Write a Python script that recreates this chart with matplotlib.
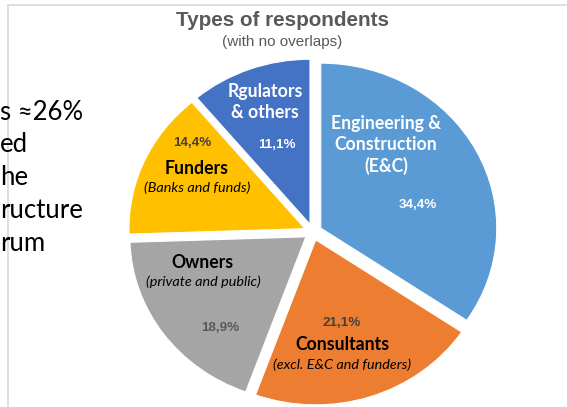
import matplotlib
matplotlib.use("Agg")
import matplotlib.pyplot as plt
from matplotlib.lines import Line2D

# data
categories = ["Engineering &\nConstruction\n(E&C)", "Consultants", "Owners", "Funders", "Rgulators\n& others"]
shares = [34.4, 21.1, 18.9, 14.4, 11.1]
pct_labels = ["34,4%", "21,1%", "18,9%", "14,4%", "11,1%"]
subtitles = ["", "(excl. E&C and funders)", "(private and public)", "(Banks and funds)", ""]
colors = ["#5B9BD5", "#ED7D31", "#A5A5A5", "#FFC000", "#4472C4"]
left_text = ["s \u224826%", "ed", "he", "ructure", "rum"]

W, H = 567, 407
fig = plt.figure(figsize=(W / 100, H / 100), dpi=100)
ax = fig.add_axes([0, 0, 1, 1])

# pie centre and radii in pixels (picture is slightly stretched sideways)
cx, cy, rx, ry = 313, 232, 176, 165

wedges, _ = ax.pie(shares, colors=colors, startangle=90, counterclock=False,
                   explode=[0.05] * len(shares),
                   wedgeprops=dict(edgecolor="white", linewidth=0.8))
ax.set_aspect("auto")
ax.set_xlim(-cx / rx, (W - cx) / rx)
ax.set_ylim(-(H - cy) / ry, cy / ry)
ax.axis("off")


def px(x, y):
    return (x - cx) / rx, (cy - y) / ry


lab_font = ["Lato", "DejaVu Sans"]
num_font = ["Liberation Sans", "DejaVu Sans"]
LAB = 12.7
SUB = 10.4
NUM = 9.6

# E&C
ax.text(*px(386, 145), categories[0], color="white", fontweight="bold", fontsize=LAB,
        family=lab_font, ha="center", va="center", linespacing=1.25)
ax.text(*px(418, 205), pct_labels[0], color="white", fontweight="bold", fontsize=NUM,
        family=num_font, ha="center", va="center")
# Regulators
ax.text(*px(265, 102), categories[4], color="white", fontweight="bold", fontsize=LAB,
        family=lab_font, ha="center", va="center", linespacing=1.25)
ax.text(*px(277, 145), pct_labels[4], color="white", fontweight="bold", fontsize=NUM,
        family=num_font, ha="center", va="center")
# Funders
ax.text(*px(192, 143), pct_labels[3], color="#404040", fontweight="bold", fontsize=NUM,
        family=num_font, ha="center", va="center")
ax.text(*px(197, 168), categories[3], color="black", fontweight="bold", fontsize=LAB,
        family=lab_font, ha="center", va="center")
ax.text(*px(197, 188), subtitles[3], color="black", style="italic", fontsize=SUB,
        family=lab_font, ha="center", va="center")
# Owners
ax.text(*px(202, 262), categories[2], color="black", fontweight="bold", fontsize=LAB,
        family=lab_font, ha="center", va="center")
ax.text(*px(203, 282), subtitles[2], color="black", style="italic", fontsize=SUB,
        family=lab_font, ha="center", va="center")
ax.text(*px(220, 328), pct_labels[2], color="#595959", fontweight="bold", fontsize=NUM,
        family=num_font, ha="center", va="center")
# Consultants
ax.text(*px(342, 323), pct_labels[1], color="#404040", fontweight="bold", fontsize=NUM,
        family=num_font, ha="center", va="center")
ax.text(*px(342, 345), categories[1], color="black", fontweight="bold", fontsize=LAB,
        family=lab_font, ha="center", va="center")
ax.text(*px(342, 365), subtitles[1], color="black", style="italic", fontsize=SUB,
        family=lab_font, ha="center", va="center")

# titles
fig.text(282 / W, 1 - 20 / H, "Types of respondents", ha="center", va="center",
         fontsize=14.9, fontweight="bold", color="#595959", family=num_font)
fig.text(282 / W, 1 - 42 / H, "(with no overlaps)", ha="center", va="center",
         fontsize=11, color="#595959", family=num_font)

# chart frame (only top and left visible)
fig.add_artist(Line2D([8 / W, 8 / W], [0, 1 - 5 / H], color="#D9D9D9", lw=1.2))
fig.add_artist(Line2D([8 / W, 1], [1 - 5 / H, 1 - 5 / H], color="#D9D9D9", lw=1.2))

# clipped slide text on the left
for i, t in enumerate(left_text):
    fig.text(0, 1 - (112 + 33 * i) / H, t, ha="left", va="center", fontsize=18.5,
             color="black", family=lab_font)

fig.savefig("out.png", dpi=100)
